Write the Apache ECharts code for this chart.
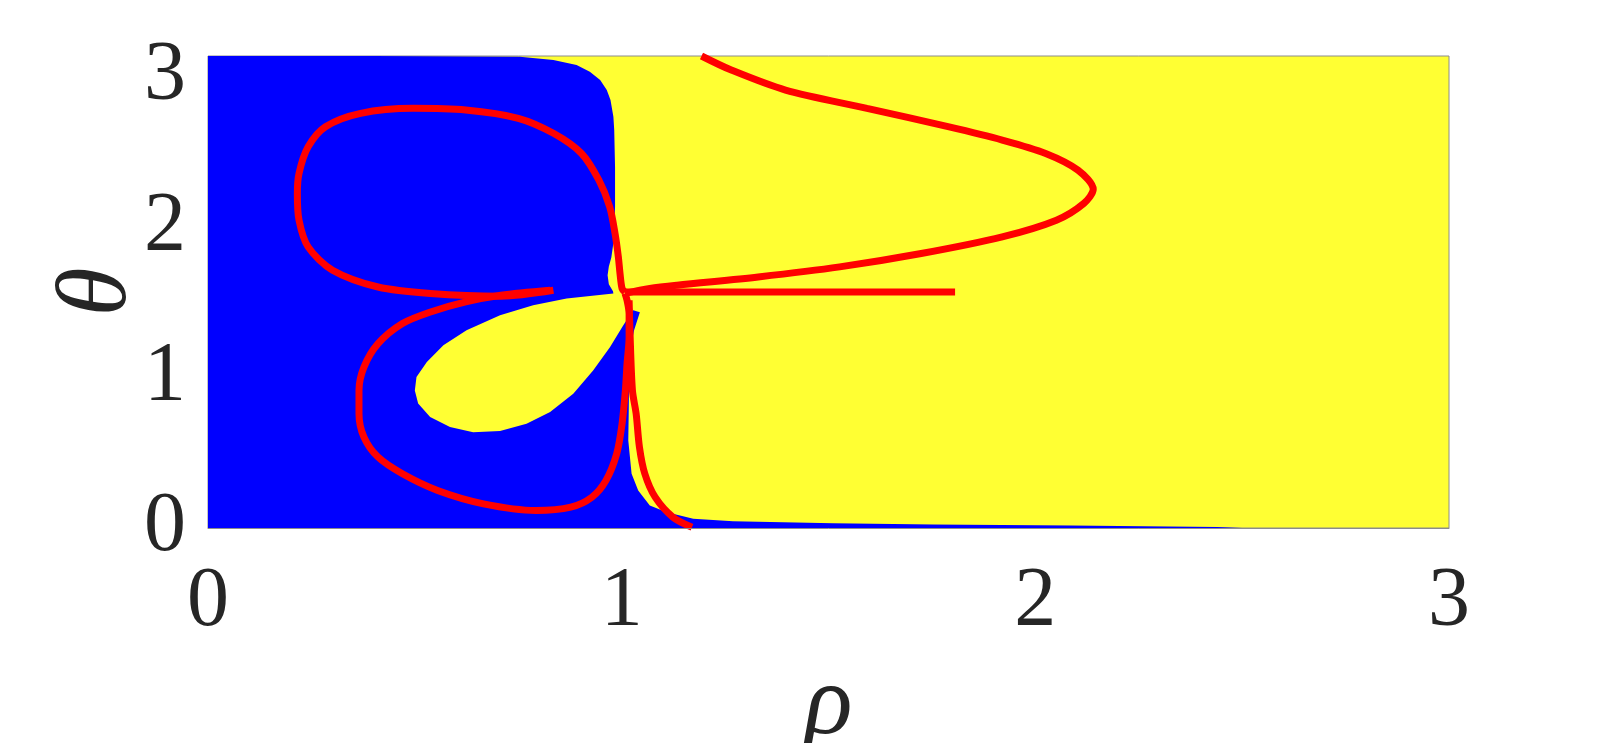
<!DOCTYPE html>
<html>
<head>
<meta charset="utf-8">
<script src="https://cdn.jsdelivr.net/npm/echarts@6/dist/echarts.min.js"></script>
<style>
  html, body { margin: 0; padding: 0; background: #fff; }
  #chart { width: 1600px; height: 743px; }
</style>
</head>
<body>
<div id="chart"></div>
<script>
// tick labels
const xTicks = [0, 1, 2, 3];
const yTicks = [0, 1, 2, 3];

// boundary of the blue region, [rho, theta] (rest of the plane is yellow)
const blueRegion = [
  [0, 0], [0, 3.1416], [0.40, 3.1416], [0.754, 3.137], [0.835, 3.115], [0.891, 3.082],
  [0.923, 3.037], [0.948, 2.982], [0.964, 2.915], [0.973, 2.849], [0.980, 2.737],
  [0.982, 2.649], [0.984, 2.40], [0.984, 2.138], [0.981, 1.916], [0.975, 1.80],
  [0.969, 1.74], [0.966, 1.682], [0.969, 1.622], [0.979, 1.576],
  // outline of the yellow petal
  [0.980, 1.561], [0.867, 1.527], [0.786, 1.483], [0.706, 1.416], [0.625, 1.316],
  [0.569, 1.216], [0.529, 1.105], [0.504, 1.005], [0.500, 0.916], [0.508, 0.828],
  [0.537, 0.738], [0.585, 0.672], [0.641, 0.638], [0.706, 0.645], [0.770, 0.694],
  [0.827, 0.772], [0.883, 0.894], [0.931, 1.049], [0.972, 1.205], [1.004, 1.349],
  [1.028, 1.449],
  // narrow blue wedge and the sliver along theta = 0
  [1.044, 1.436], [1.030, 1.316], [1.022, 1.205], [1.018, 0.983], [1.017, 0.761],
  [1.016, 0.583], [1.024, 0.361], [1.040, 0.250], [1.068, 0.150], [1.109, 0.105],
  [1.173, 0.061], [1.269, 0.045], [1.511, 0.032], [1.753, 0.023], [2.084, 0.017],
  [2.439, 0.007], [2.5, 0]
];

// red curves
const upperLoop = [
  [0.835, 1.582], [0.708, 1.543], [0.538, 1.561], [0.411, 1.604], [0.301, 1.716],
  [0.242, 1.871], [0.220, 2.049], [0.216, 2.227], [0.220, 2.360], [0.242, 2.537],
  [0.284, 2.671], [0.369, 2.760], [0.496, 2.793], [0.623, 2.782], [0.750, 2.727],
  [0.835, 2.627], [0.903, 2.493], [0.945, 2.315], [0.971, 2.138], [0.984, 1.960],
  [0.992, 1.804], [0.996, 1.694], [1.001, 1.594], [1.008, 1.569]
];
const rightArc = [
  [1.008, 1.562], [1.068, 1.594], [1.134, 1.616], [1.330, 1.671], [1.527, 1.738],
  [1.724, 1.827], [1.920, 1.938], [2.051, 2.049], [2.117, 2.160], [2.140, 2.254],
  [2.103, 2.382], [2.025, 2.493], [1.920, 2.582], [1.789, 2.671], [1.593, 2.793],
  [1.396, 2.915], [1.265, 3.048], [1.193, 3.1416]
];
const flatBranch = [[1.01, 1.570], [1.806, 1.570]];
const lowerLoop = [
  [0.827, 1.582], [0.708, 1.549], [0.623, 1.505], [0.538, 1.438], [0.470, 1.361],
  [0.411, 1.227], [0.377, 1.071], [0.365, 0.916], [0.365, 0.761], [0.377, 0.605],
  [0.411, 0.472], [0.470, 0.361], [0.555, 0.250], [0.666, 0.161], [0.793, 0.117],
  [0.877, 0.139], [0.928, 0.205], [0.962, 0.316], [0.988, 0.494], [1.001, 0.694],
  [1.009, 0.916], [1.013, 1.094], [1.018, 1.271], [1.018, 1.427], [1.013, 1.516],
  [1.008, 1.562]
];
const rightDrop = [
  [1.018, 1.516], [1.020, 1.316], [1.026, 0.916], [1.035, 0.761], [1.043, 0.538],
  [1.056, 0.361], [1.081, 0.205], [1.124, 0.072], [1.170, 0.005]
];

const chart = echarts.init(document.getElementById('chart'));

function redLine(data) {
  return {
    type: 'line',
    data: data,
    showSymbol: false,
    smooth: 0.3,
    z: 5,
    lineStyle: { color: '#ff0000', width: 7 }
  };
}

const serif = 'Liberation Serif';
const tickFormatter = v => (Math.abs(v - Math.round(v)) < 1e-9 ? String(Math.round(v)) : '');

chart.setOption({
  animation: false,
  grid: {
    left: 208, right: 151, top: 56, bottom: 215,
    outerBoundsMode: 'none',
    containLabel: false,
    show: true,
    backgroundColor: '#ffff33',
    borderColor: '#8c8c8c',
    borderWidth: 1
  },
  xAxis: {
    type: 'value',
    min: 0, max: 3, interval: 1,
    z: 6,
    name: 'ρ',
    nameLocation: 'middle',
    nameGap: 129,
    nameMoveOverlap: false,
    nameTextStyle: {
      fontFamily: serif, fontStyle: 'italic', fontSize: 100, color: '#262626'
    },
    axisLine: { show: true, lineStyle: { color: '#8c8c8c', width: 1 } },
    axisTick: { show: false },
    splitLine: { show: false },
    axisLabel: {
      margin: 33,
      fontFamily: serif, fontSize: 84, color: '#262626',
      formatter: tickFormatter
    },
    data: xTicks
  },
  yAxis: {
    type: 'value',
    min: 0, max: Math.PI, interval: 1,
    z: 6,
    name: 'θ',
    nameLocation: 'middle',
    nameGap: 59,
    nameMoveOverlap: false,
    nameTextStyle: {
      fontFamily: serif, fontStyle: 'italic', fontSize: 100, color: '#262626'
    },
    axisLine: { show: false },
    axisTick: { show: false },
    splitLine: { show: false },
    axisLabel: {
      margin: 22,
      padding: [22, 0, 0, 0],
      fontFamily: serif, fontSize: 84, color: '#262626',
      formatter: tickFormatter
    },
    data: yTicks
  },
  series: [
    {
      type: 'custom',
      data: [[0, 0]],
      clip: true,
      z: 2,
      renderItem: function (params, api) {
        return {
          type: 'polygon',
          shape: { points: blueRegion.map(p => api.coord(p)) },
          style: { fill: '#0000ff' }
        };
      }
    },
    redLine(upperLoop),
    redLine(rightArc),
    redLine(flatBranch),
    redLine(lowerLoop),
    redLine(rightDrop)
  ]
});
</script>
</body>
</html>
